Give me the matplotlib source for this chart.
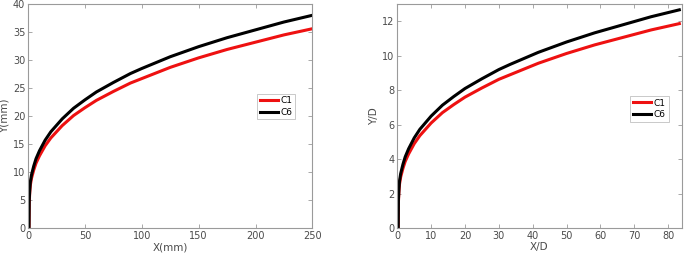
import numpy as np
import matplotlib.pyplot as plt

# valeurs (X en mm, Y en mm)
x_mm = [0.8, 1.0, 1.5, 2, 3, 5, 7, 10, 15, 20, 30, 40, 50, 60, 75, 90, 100,
        125, 150, 175, 200, 225, 250]
y_c1 = [0, 4.6, 6.5, 7.7, 8.9, 10.4, 11.6, 12.9, 14.7, 16.1, 18.3, 20.1,
        21.5, 22.8, 24.4, 25.9, 26.7, 28.7, 30.4, 31.9, 33.2, 34.5, 35.6]
y_c6 = [0, 5.0, 7.0, 8.25, 9.5, 11.1, 12.4, 13.8, 15.7, 17.2, 19.5, 21.4,
        22.9, 24.3, 26.0, 27.6, 28.5, 30.6, 32.4, 34.0, 35.4, 36.8, 38.0]
# diametre (mm) pour la version adimensionnelle
D = 3.0

xd = np.array(x_mm) / D
yd_c1 = np.array(y_c1) / D
yd_c6 = np.array(y_c6) / D

gris = '#4a4a4a'
fig = plt.figure(figsize=(6.85, 2.56), dpi=100)
ax1 = fig.add_axes([0.041, 0.109, 0.415, 0.875])
ax2 = fig.add_axes([0.580, 0.109, 0.415, 0.875])


def style(ax):
    for s in ax.spines.values():
        s.set_color('#9a9a9a')
        s.set_linewidth(0.8)
    ax.tick_params(direction='in', length=3, width=0.6, color='#9a9a9a',
                   labelsize=7, labelcolor=gris, pad=2)
    ax.tick_params(top=True, right=True)


def legende(ax, pos):
    leg = ax.legend(loc='upper left', bbox_to_anchor=pos, fontsize=6.5,
                    frameon=True, fancybox=False, handlelength=2.0,
                    handletextpad=0.3, borderpad=0.3, labelspacing=0.25,
                    borderaxespad=0)
    leg.get_frame().set_edgecolor('#b0b0b0')
    leg.get_frame().set_linewidth(0.6)


ax1.plot(x_mm, y_c1, color='#ee1111', lw=2.2, label='C1')
ax1.plot(x_mm, y_c6, color='black', lw=2.2, label='C6')
ax1.set_xlim(0, 250)
ax1.set_ylim(0, 40)
ax1.set_xticks(np.arange(0, 251, 50))
ax1.set_yticks(np.arange(0, 41, 5))
ax1.set_xlabel('X(mm)', fontsize=7.5, color=gris, labelpad=1)
ax1.set_ylabel('Y(mm)', fontsize=7.5, color=gris, labelpad=2)
style(ax1)
legende(ax1, (0.805, 0.60))

ax2.plot(xd, yd_c1, color='#ee1111', lw=2.2, label='C1')
ax2.plot(xd, yd_c6, color='black', lw=2.2, label='C6')
ax2.set_xlim(0, 84)
ax2.set_ylim(0, 13)
ax2.set_xticks(np.arange(0, 81, 10))
ax2.set_yticks(np.arange(0, 13, 2))
ax2.set_xlabel('X/D', fontsize=7.5, color=gris, labelpad=1)
ax2.set_ylabel('Y/D', fontsize=7.5, color=gris, labelpad=2)
style(ax2)
legende(ax2, (0.82, 0.59))

plt.savefig('out.png', dpi=100)
